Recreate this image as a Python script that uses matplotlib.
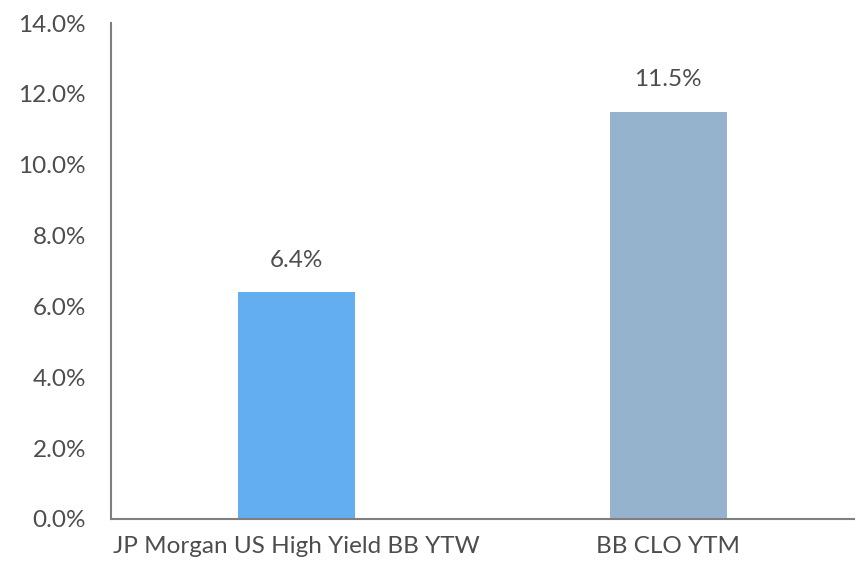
import matplotlib.pyplot as plt
from matplotlib.ticker import PercentFormatter

categories = ["JP Morgan US High Yield BB YTW", "BB CLO YTM"]
values = [6.4, 11.5]
colors = ["#63AEF0", "#95B3CC"]

plt.rcParams["font.family"] = ["Lato", "DejaVu Sans"]

fig = plt.figure(figsize=(8.58, 5.64), dpi=100)
ax = fig.add_axes([0.1294, 0.0798, 0.8659, 0.8794])

x = range(len(categories))
bars = ax.bar(x, values, width=0.315, color=colors)
for b, v in zip(bars, values):
    ax.text(b.get_x() + b.get_width() / 2, v + 0.6, f"{v:.1f}%",
            ha="center", va="bottom", fontsize=17.5, color="#4d4d4d")

ax.set_xlim(-0.5, 1.5)
ax.set_ylim(0, 14)
ax.set_yticks(range(0, 15, 2))
ax.yaxis.set_major_formatter(PercentFormatter(decimals=1))
ax.set_xticks(list(x))
ax.set_xticklabels(categories)
ax.tick_params(length=0, labelsize=17.5, labelcolor="#4d4d4d")
ax.tick_params(axis="y", pad=18)
ax.tick_params(axis="x", pad=12)

for s in ["top", "right"]:
    ax.spines[s].set_visible(False)
for s in ["left", "bottom"]:
    ax.spines[s].set_color("#7f7f7f")
    ax.spines[s].set_linewidth(1.5)

fig.savefig("out.png")
